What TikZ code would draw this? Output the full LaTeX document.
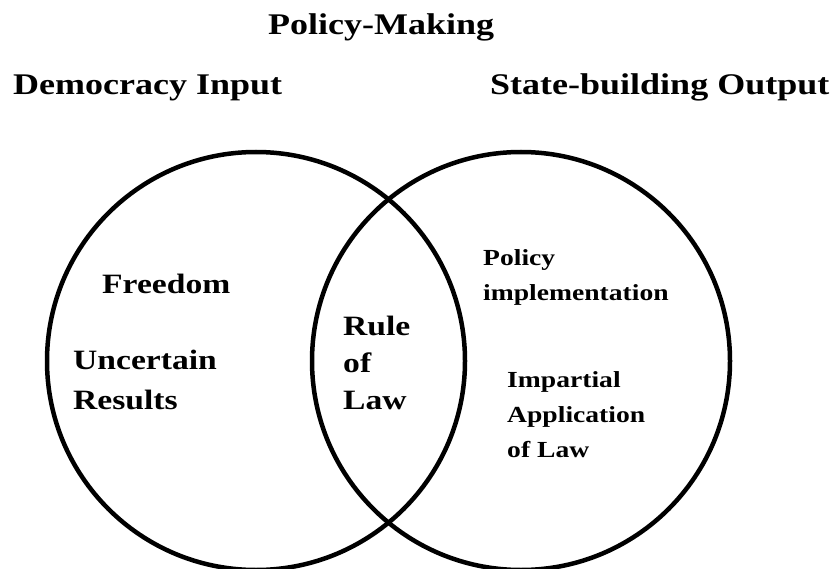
\documentclass[tikz,border=0pt]{standalone}
\usepackage{fontspec}
\setmainfont{Liberation Serif}[FakeStretch=1.2]

\begin{document}
\begin{tikzpicture}[x=1pt, y=-1pt,
    venn/.style = {circle, draw, line width=4.5pt,
                   minimum size=418pt, inner sep=0pt},
    heading/.style = {anchor=base west, inner sep=0pt,
                      font=\fontsize{30}{36}\selectfont\bfseries},
    bigtxt/.style = {anchor=base west, inner sep=0pt, align=left,
                     font=\fontsize{28}{40}\selectfont\bfseries},
    smalltxt/.style = {anchor=base west, inner sep=0pt, align=left,
                       font=\fontsize{23}{35}\selectfont\bfseries},
    ]
\useasboundingbox (0,0) rectangle (837,569);
% the two sets
\node[venn] (input)  at (256,361) {};
\node[venn] (output) at (521,361) {};
% headings
\node[heading] (policymaking) at (268,35) {Policy-Making};
\node[heading] (democracy)    at (13,95)  {Democracy Input};
\node[heading] (statebuild)   at (490,95) {State-building Output};
% left set (base = last line)
\node[bigtxt] (freedom)   at (102,293) {Freedom};
\node[bigtxt] (uncertain) at (73,409)  {Uncertain\\Results};
% overlap
\node[bigtxt, font=\fontsize{28}{37}\selectfont\bfseries] (rulelaw) at (343,409) {Rule\\of\\Law};
% right set
\node[smalltxt] (implement) at (483,300) {Policy\\implementation};
\node[smalltxt] (impartial) at (507,457) {Impartial\\Application\\of Law};
\end{tikzpicture}
\end{document}
